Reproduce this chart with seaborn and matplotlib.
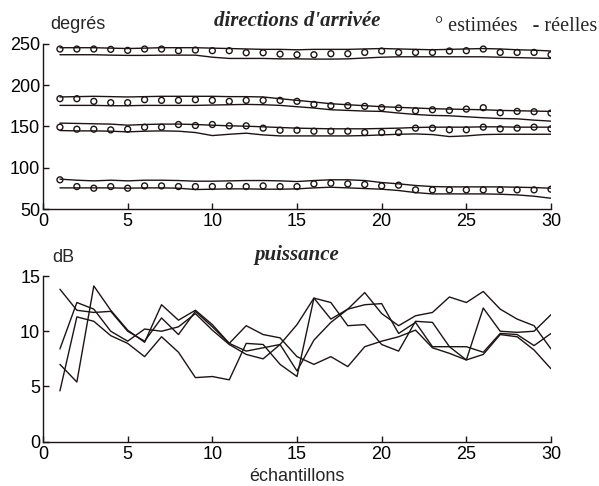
import numpy as np
import pandas as pd
import matplotlib
matplotlib.use("Agg")
import matplotlib.pyplot as plt
import seaborn as sns

# ---------------- data ----------------
samples = list(range(1, 31))

# directions of arrival (degrees): estimated (circles) and real (two lines per source)
est_1 = [243.9, 243.9, 243.9, 243.5, 242.3, 243.9, 243.9, 241.9, 242.7, 241.9,
         241.9, 239.4, 239.4, 237.8, 237.0, 237.0, 238.2, 238.2, 239.8, 241.5,
         239.8, 239.8, 239.8, 241.5, 241.9, 243.9, 239.8, 239.8, 239.8, 237.0]
est_2 = [183.7, 183.7, 180.5, 178.9, 178.9, 182.5, 181.7, 181.7, 182.5, 181.7,
         180.5, 181.7, 181.7, 181.7, 180.5, 176.8, 175.2, 175.2, 174.4, 172.8,
         172.4, 169.1, 170.3, 169.5, 171.1, 172.8, 166.7, 168.3, 167.9, 166.3]
est_3 = [149.2, 146.7, 146.7, 145.9, 146.7, 149.2, 149.2, 152.4, 151.2, 152.4,
         150.8, 150.8, 148.0, 145.5, 145.5, 144.3, 144.3, 144.3, 142.7, 142.7,
         142.7, 148.0, 148.0, 146.0, 146.0, 149.2, 147.2, 148.0, 149.2, 147.2]
est_4 = [85.4, 77.2, 75.2, 77.2, 75.2, 78.0, 78.0, 77.2, 77.2, 77.2,
         78.0, 77.2, 78.0, 77.2, 77.2, 80.5, 81.3, 80.5, 79.7, 78.0,
         78.9, 73.2, 73.2, 73.2, 73.2, 73.2, 73.2, 73.2, 73.2, 74.0]

real_1a = [245.5, 245.5, 245.5, 245.0, 244.5, 245.0, 245.5, 245.5, 245.5, 245.0,
           244.5, 244.0, 243.5, 243.5, 243.0, 243.5, 243.5, 243.5, 244.0, 244.5,
           244.0, 243.5, 243.0, 243.5, 244.0, 244.5, 244.0, 243.0, 242.5, 241.5]
real_1b = [237.0, 237.0, 237.0, 236.5, 236.2, 236.2, 236.5, 236.5, 236.5, 234.0,
           232.5, 232.5, 232.5, 232.0, 232.0, 231.7, 231.7, 232.0, 233.0, 234.0,
           234.5, 234.5, 234.5, 234.5, 234.5, 234.5, 234.0, 233.5, 233.0, 232.5]
real_2a = [185.8, 186.2, 186.6, 186.2, 185.8, 186.2, 186.6, 186.6, 186.6, 186.6,
           186.2, 186.2, 185.8, 183.7, 181.7, 179.7, 177.6, 176.4, 175.2, 174.0,
           173.2, 172.4, 171.6, 171.1, 170.7, 170.3, 169.5, 169.1, 168.7, 168.3]
real_2b = [175.6, 175.6, 175.6, 175.2, 175.2, 175.6, 175.6, 175.6, 175.6, 176.0,
           176.4, 176.8, 176.4, 175.6, 174.0, 172.4, 170.3, 169.5, 168.7, 168.3,
           166.3, 164.6, 163.4, 163.0, 161.8, 160.6, 159.7, 159.3, 157.7, 156.5]
real_3a = [154.1, 153.7, 153.3, 152.9, 151.6, 152.4, 152.9, 152.9, 152.4, 151.6,
           150.8, 150.4, 149.6, 148.8, 148.0, 147.6, 147.2, 147.2, 147.2, 147.6,
           148.0, 148.8, 149.2, 149.2, 149.2, 149.6, 149.6, 149.2, 149.2, 149.2]
real_3b = [145.1, 144.7, 144.7, 144.3, 143.5, 144.3, 144.7, 144.3, 142.7, 139.0,
           140.6, 141.9, 139.8, 138.6, 138.6, 138.6, 138.6, 138.6, 139.0, 139.8,
           140.6, 141.0, 140.2, 137.8, 138.6, 140.2, 140.6, 140.6, 140.6, 140.6]
real_4a = [86.2, 84.9, 84.1, 84.9, 84.1, 84.9, 84.9, 84.5, 83.7, 83.7,
           84.1, 84.5, 84.5, 84.1, 83.3, 84.5, 85.4, 85.4, 84.5, 82.1,
           80.5, 78.5, 77.2, 76.8, 76.8, 76.8, 76.8, 76.4, 76.0, 75.2]
real_4b = [75.6, 75.6, 75.6, 75.6, 75.2, 75.6, 75.6, 75.2, 73.6, 74.0,
           74.4, 74.4, 74.0, 74.0, 74.4, 75.6, 76.4, 75.6, 74.8, 74.0,
           72.4, 69.9, 68.3, 68.3, 68.3, 68.3, 67.9, 67.1, 65.5, 63.0]

# power (dB), four sources
pow_a = [13.8, 11.9, 11.7, 11.8, 10.0, 9.1, 11.2, 9.7, 11.8, 10.4,
         8.9, 8.2, 8.5, 8.8, 10.6, 13.0, 11.1, 12.0, 13.5, 11.6,
         10.5, 11.4, 11.7, 13.1, 12.6, 13.6, 12.0, 11.1, 10.5, 8.4]
pow_b = [8.4, 12.6, 12.0, 10.0, 9.1, 10.2, 10.0, 10.4, 11.6, 10.1,
         8.8, 7.9, 7.5, 8.8, 6.4, 9.2, 10.8, 12.0, 12.4, 12.5,
         9.8, 10.8, 8.6, 8.6, 7.4, 12.1, 10.0, 9.9, 10.0, 11.5]
pow_c = [7.0, 5.4, 14.1, 11.9, 10.1, 9.0, 12.4, 11.0, 11.9, 10.6,
         8.9, 10.5, 9.7, 9.4, 7.7, 7.0, 7.7, 6.8, 8.6, 9.1,
         9.5, 10.1, 8.5, 8.0, 7.4, 7.9, 9.7, 9.5, 8.3, 6.6]
pow_d = [4.6, 11.3, 10.9, 9.6, 8.9, 7.7, 9.5, 8.1, 5.8, 5.9,
         5.6, 8.9, 8.8, 7.0, 5.9, 13.0, 12.6, 10.5, 10.6, 8.8,
         8.2, 10.9, 10.8, 8.6, 8.6, 8.1, 9.8, 9.7, 8.7, 9.8]

x_ticks = [0, 5, 10, 15, 20, 25, 30]
dir_ticks = [50, 100, 150, 200, 250]
pow_ticks = [0, 5, 10, 15]

# ---------------- tables ----------------
def long(series_dict):
    frames = []
    for name, vals in series_dict.items():
        frames.append(pd.DataFrame({"x": samples, "v": vals, "serie": name}))
    return pd.concat(frames, ignore_index=True)

df_est = long({"s1": est_1, "s2": est_2, "s3": est_3, "s4": est_4})
df_real = long({"1a": real_1a, "1b": real_1b, "2a": real_2a, "2b": real_2b,
                "3a": real_3a, "3b": real_3b, "4a": real_4a, "4b": real_4b})
df_pow = long({"a": pow_a, "b": pow_b, "c": pow_c, "d": pow_d})

# ---------------- figure ----------------
sns.set_style("ticks")
plt.rcParams["font.family"] = ["Liberation Sans", "DejaVu Sans"]

W, H = 599, 486
fig = plt.figure(figsize=(W / 100, H / 100), dpi=100)
ax1 = fig.add_axes([43 / W, 1 - 209 / H, 508 / W, 165 / H])
ax2 = fig.add_axes([43 / W, 1 - 441.7 / H, 508 / W, 165.7 / H])

ink = "#1c1414"

sns.lineplot(data=df_real, x="x", y="v", units="serie", estimator=None,
             color=ink, linewidth=1.0, ax=ax1, legend=False)
sns.scatterplot(data=df_est, x="x", y="v", marker="o", s=18,
                facecolor="none", edgecolor=ink, linewidth=1.0, ax=ax1,
                legend=False, zorder=3)

sns.lineplot(data=df_pow, x="x", y="v", units="serie", estimator=None,
             color=ink, linewidth=1.0, ax=ax2, legend=False)

for ax, yt, yl in ((ax1, dir_ticks, (50, 250)), (ax2, pow_ticks, (0, 15))):
    ax.set_xlim(0, 30)
    ax.set_ylim(*yl)
    ax.set_xticks(x_ticks)
    ax.set_yticks(yt)
    ax.set_xlabel("")
    ax.set_ylabel("")
    sns.despine(ax=ax)
    for s in ("left", "bottom"):
        ax.spines[s].set_linewidth(1.0)
        ax.spines[s].set_color(ink)
    ax.tick_params(direction="in", length=4, width=1.0, colors=ink,
                   labelsize=13, labelcolor="black")
    ax.tick_params(axis="x", pad=3)
    ax.tick_params(axis="y", pad=2)
    ax.patch.set_alpha(0)

serif_bi = dict(family=["Liberation Serif", "DejaVu Serif"], style="italic",
                weight="bold", size=15)

fig.text(50 / W, 1 - 29 / H, "degrés", fontsize=13, ha="left", va="baseline")
fig.text(297 / W, 1 - 26 / H, "directions d'arrivée", ha="center",
         va="baseline", **serif_bi)
fig.text(435 / W, 1 - 31 / H, "° estimées   - réelles", ha="left", va="baseline",
         family=["Liberation Serif", "DejaVu Serif"], size=14.5)

fig.text(52 / W, 1 - 262 / H, "dB", fontsize=13, ha="left", va="baseline")
fig.text(297 / W, 1 - 260 / H, "puissance", ha="center", va="baseline",
         **serif_bi)
fig.text(297 / W, 1 - 481 / H, "échantillons", fontsize=13, ha="center",
         va="baseline")

fig.savefig("out.png", dpi=100)
